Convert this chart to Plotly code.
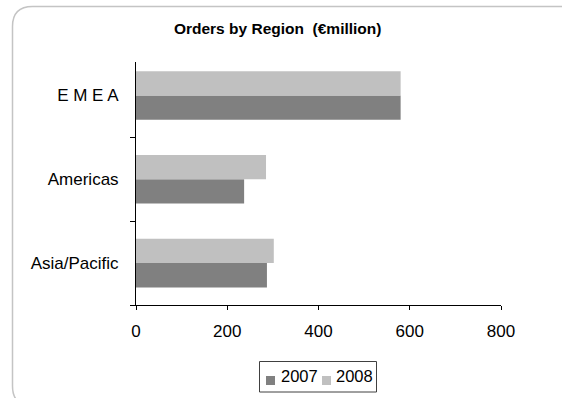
import plotly.graph_objects as go

# Orders by region, € million
regions = ["Asia/Pacific", "Americas", "E M E A"]
series_names = ["2007", "2008"]
orders_2007 = [287, 237, 580]
orders_2008 = [302, 285, 580]
x_ticks = [0, 200, 400, 600, 800]

W, H = 562, 398
M = dict(l=136, r=61, t=62, b=93, autoexpand=False)
PW, PH = W - M["l"] - M["r"], H - M["t"] - M["b"]

FONT = "Liberation Sans, Arial, sans-serif"
DARK, LIGHT = "#808080", "#C0C0C0"
colors = [DARK, LIGHT]


def px_x(p):
    return (p - M["l"]) / PW


def px_y(p):
    return (H - M["b"] - p) / PH


fig = go.Figure()
for name, vals, col in zip(series_names, [orders_2007, orders_2008], colors):
    fig.add_trace(go.Bar(name=name, y=regions, x=vals, orientation="h",
                         marker=dict(color=col, line=dict(width=0)),
                         showlegend=False))

# rounded outer frame of the chart area
x0, y0, x1, y1, r = px_x(12.5), px_y(6.5), px_x(600), px_y(406), 20
rx, ry = r / PW, r / PH
frame = (f"M{x0+rx},{y0} L{x1-rx},{y0} Q{x1},{y0} {x1},{y0-ry} "
         f"L{x1},{y1+ry} Q{x1},{y1} {x1-rx},{y1} L{x0+rx},{y1} "
         f"Q{x0},{y1} {x0},{y1+ry} L{x0},{y0-ry} Q{x0},{y0} {x0+rx},{y0} Z")

shapes = [
    dict(type="path", path=frame, xref="paper", yref="paper",
         line=dict(color="#C4C4C4", width=1.5), layer="below"),
    # closing tick at the top of the category axis
    dict(type="line", xref="x", xsizemode="pixel", xanchor=0, x0=-5, x1=0,
         yref="paper", y0=1, y1=1, line=dict(color="black", width=1)),
    # legend box
    dict(type="rect", xref="paper", yref="paper",
         x0=px_x(259.5), x1=px_x(376.5), y0=px_y(361.5), y1=px_y(392),
         line=dict(color="#404040", width=1), fillcolor="white"),
]
annotations = []
legend_sym_x = [266, 322]
legend_txt_x = [278.5, 333.5]
for name, col, sx, tx in zip(series_names, colors, legend_sym_x, legend_txt_x):
    shapes.append(dict(type="rect", xref="paper", yref="paper",
                       x0=px_x(sx), x1=px_x(sx + 9), y0=px_y(376), y1=px_y(385),
                       line=dict(width=0), fillcolor=col))
    annotations.append(dict(text=name, xref="paper", yref="paper",
                            x=px_x(tx), y=px_y(376), xanchor="left",
                            yanchor="middle", showarrow=False,
                            font=dict(size=16.5, color="black")))

fig.update_layout(
    width=W, height=H, margin=M, showlegend=False,
    paper_bgcolor="white", plot_bgcolor="white",
    font=dict(family=FONT, size=16, color="black"),
    barmode="group", bargap=0.42, bargroupgap=0,
    title=dict(text="<b>Orders by Region  (€million)</b>",
               font=dict(family=FONT, size=15.5, color="black"),
               x=277.7 / W, xref="container", xanchor="center",
               y=1 - 29 / H, yref="container", yanchor="middle"),
    xaxis=dict(range=[0, 800], tickvals=x_ticks, ticks="outside", ticklen=4,
               tickcolor="black", showline=True, linecolor="black", linewidth=1,
               showgrid=False, zeroline=False, tickfont=dict(size=17),
               ticklabelstandoff=7),
    yaxis=dict(type="category", categoryorder="array", categoryarray=regions,
               range=[-0.5, 2.4], tickson="boundaries", ticks="outside",
               ticklen=5, tickcolor="black", showline=True, linecolor="black",
               linewidth=1, showgrid=False, zeroline=False,
               tickfont=dict(size=17), ticklabelstandoff=13),
    shapes=shapes,
    annotations=annotations,
)

fig.write_html("out.html")
